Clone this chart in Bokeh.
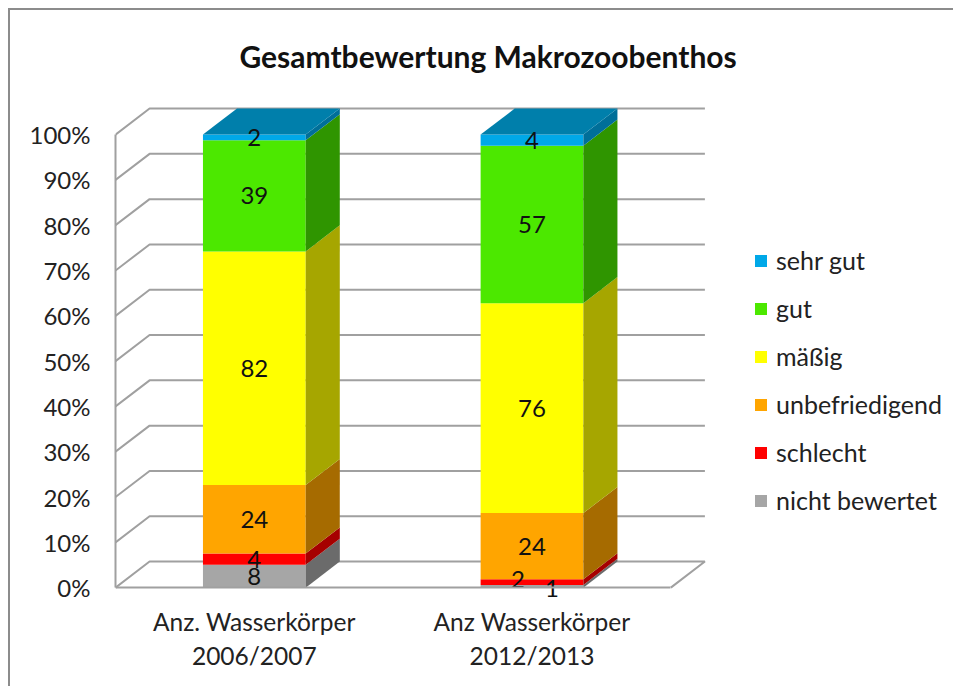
from bokeh.plotting import figure
from bokeh.embed import file_html
from bokeh.resources import INLINE
from bokeh.models import (Range1d, FixedTicker, Legend, LegendItem, ColumnDataSource,
                          LinearAxis, PrintfTickFormatter, Title)
from bokeh.core.properties import value

categories = ["Anz. Wasserkörper\n2006/2007", "Anz Wasserkörper\n2012/2013"]
series_names = ["nicht bewertet", "schlecht", "unbefriedigend", "mäßig", "gut", "sehr gut"]
counts_2006 = [8, 4, 24, 82, 39, 2]
counts_2012 = [1, 2, 24, 76, 57, 4]
front_colors = ["#a6a6a6", "#ff0000", "#ffa500", "#ffff00", "#4ce800", "#00a8e8"]
side_colors = ["#6b6b6b", "#a60000", "#a66b00", "#a6a600", "#2f9500", "#006f99"]
top_color = "#007fab"
y_ticks = [0, 10, 20, 30, 40, 50, 60, 70, 80, 90, 100]
label_dx = [[0, 0, 0, 0, 0, 0], [20, -14, 0, 0, 0, 0]]
label_dy = [[0, 0, 0, 0, 0, 0], [2, -3, 0, 0, 0, 0]]

FONT = "Lato"
PX_X = 277.0      # pixels per category
PX_Y = 4.515      # pixels per percent
DX = 34 / PX_X    # depth offset in x units
DY = 26 / PX_Y    # depth offset in y units
BAR = 102.5 / PX_X

W, H = 945, 678       # page margin of 8 on left and top is set through `margin`
OX, OY = 11, 11       # measured offset of the canvas in the page
LEFT = 116 - OX
ZERO_Y = 586.5 - OY
FRAME_TOP = 88
INNER_W, INNER_H = W - 2, H - 2

p = figure(width=W, height=H, output_backend="svg", toolbar_location=None,
           margin=(8, 0, 0, 8),
           x_range=Range1d(0, (INNER_W - LEFT) / PX_X),
           y_range=Range1d((ZERO_Y - INNER_H) / PX_Y, (ZERO_Y - FRAME_TOP) / PX_Y),
           x_axis_type=None, y_axis_type=None,
           min_border_left=LEFT, min_border_top=FRAME_TOP,
           min_border_right=0, min_border_bottom=0)
p.grid.visible = False
p.outline_line_color = None
p.styles = {"border-top": "2px solid #8c8c8c", "border-left": "2px solid #8c8c8c",
            "box-sizing": "border-box"}

t = Title(text="Gesamtbewertung Makrozoobenthos", text_font=FONT, text_font_size="30px",
          text_font_style="bold", text_color="#111111", align="left", offset=124, standoff=50)
p.add_layout(t, "above")

# walls
n_cat = len(categories)
xs, ys = [], []
for v in y_ticks:
    if v == 0:
        xs.append([0, DX, n_cat + DX, n_cat]); ys.append([0, DY, DY, 0])
    else:
        xs.append([0, DX, n_cat + DX]); ys.append([v, v + DY, v + DY])
p.multi_line(xs, ys, line_color="#a0a0a0", line_width=2)

# axes
xax = LinearAxis(ticker=FixedTicker(ticks=[0.5, 1.5]),
                 major_label_overrides={0.5: categories[0], 1.5: categories[1]})
xax.bounds = (0, n_cat)
xax.fixed_location = 0
yax = LinearAxis(ticker=FixedTicker(ticks=y_ticks), formatter=PrintfTickFormatter(format="%d%%"))
yax.bounds = (0, 100)
for ax in (xax, yax):
    ax.axis_line_color = "#a0a0a0"
    ax.axis_line_width = 2
    ax.major_tick_line_color = None
    ax.minor_tick_line_color = None
    ax.major_label_text_font = FONT
    ax.major_label_text_color = "#222222"
xax.major_label_text_font_size = "24.5px"
yax.major_label_text_font_size = "24px"
xax.major_label_standoff = 13
yax.major_label_standoff = 19
p.add_layout(xax, "below")
p.add_layout(yax, "left")

# bars
legend_rends = {}
lab_x, lab_y, lab_t, lab_dx, lab_dy = [], [], [], [], []
for c, counts in enumerate([counts_2006, counts_2012]):
    total = sum(counts)
    x0 = c + 0.5 - BAR / 2
    x1 = c + 0.5 + BAR / 2
    low = 0.0
    for i, n in enumerate(counts):
        high = low + n / total * 100
        r = p.quad(left=[x0], right=[x1], bottom=[low], top=[high],
                   fill_color=front_colors[i], line_color=None)
        legend_rends.setdefault(series_names[i], r)
        p.patch([x1, x1 + DX, x1 + DX, x1], [low, low + DY, high + DY, high],
                fill_color=side_colors[i], line_color=None)
        lab_x.append(c + 0.5); lab_y.append((low + high) / 2); lab_t.append(str(n))
        lab_dx.append(label_dx[c][i]); lab_dy.append(label_dy[c][i])
        low = high
    p.patch([x0, x0 + DX, x1 + DX, x1], [100, 100 + DY, 100 + DY, 100],
            fill_color=top_color, line_color=None)

src = ColumnDataSource(dict(x=lab_x, y=lab_y, t=lab_t, dx=lab_dx, dy=lab_dy))
p.text(x="x", y="y", text="t", x_offset="dx", y_offset="dy", source=src, text_align="center",
       text_baseline="middle", text_font=value(FONT), text_font_size="24px", text_color="#111111")

legend = Legend(items=[LegendItem(label=n, renderers=[legend_rends[n]]) for n in reversed(series_names)],
                location=(638, 173), orientation="vertical",
                glyph_width=15, glyph_height=15, label_standoff=8, spacing=18,
                label_height=28, padding=0, margin=0,
                border_line_color=None, background_fill_color=None, background_fill_alpha=0,
                label_text_font=FONT, label_text_font_size="25px", label_text_color="#222222")
p.add_layout(legend, "center")

open("out.html", "w").write(file_html(p, INLINE))
